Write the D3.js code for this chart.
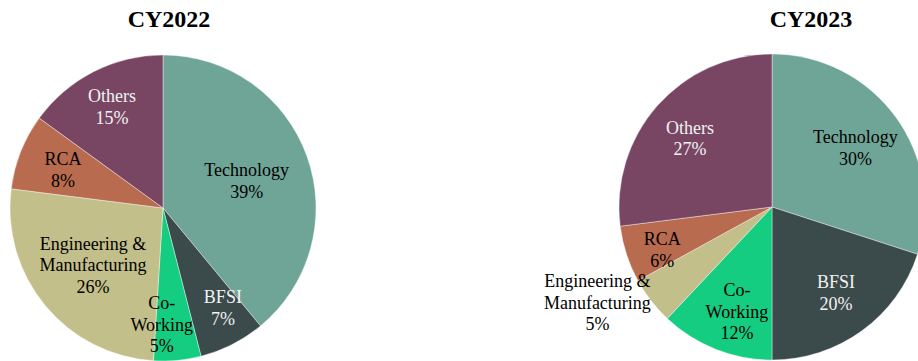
<!DOCTYPE html>
<html>
<head>
<meta charset="utf-8">
<script src="https://cdn.jsdelivr.net/npm/d3@7"></script>
<style>
  html, body { margin: 0; padding: 0; background: #fff; }
  svg { display: block; }
  .lbl { font-family: "Liberation Serif", "Times New Roman", Times, serif; font-size: 18px; }
  .ttl { font-family: "Liberation Serif", "Times New Roman", Times, serif; font-size: 24px; font-weight: bold; }
</style>
</head>
<body>
<svg id="chart" width="918" height="361"></svg>
<script>
// ---- data ----
const categories = ["Technology", "BFSI", "Co-Working", "Engineering & Manufacturing", "RCA", "Others"];
const labelLines = [["Technology"], ["BFSI"], ["Co-", "Working"], ["Engineering &", "Manufacturing"], ["RCA"], ["Others"]];
const titles = ["CY2022", "CY2023"];
const values2022 = [39, 7, 5, 26, 8, 15];
const values2023 = [30, 20, 12, 5, 6, 27];

// ---- styling ----
const colors = ["#6fa597", "#3b4a4b", "#14cd80", "#c3bf8a", "#b96b4f", "#784663"];
const textColors = ["#000", "#f2f2f2", "#000", "#000", "#000", "#f2f2f2"];

// label placement (fraction of radius, angular shift in degrees)
const labelRadius2022 = [0.575, 0.76, 0.76, 0.59, 0.70, 0.74];
const labelShift2022 = [1.8, -4, 6, 0.4, -0.8, 0.2];
const labelRadius2023 = [0.67, 0.70, 0.72, 1.30, 0.77, 0.70];
const labelShift2023 = [0.5, -0.7, -3, 9.2, -3.4, -1.3];

const svg = d3.select("#chart");
const R = 153;

const charts = [
  { title: titles[0], values: values2022, cx: 163, cy: 208, tx: 169, lr: labelRadius2022, ls: labelShift2022 },
  { title: titles[1], values: values2023, cx: 772, cy: 207, tx: 811, lr: labelRadius2023, ls: labelShift2023 }
];

const pie = d3.pie().sort(null).value(d => d.v);
const arc = d3.arc().innerRadius(0).outerRadius(R);

charts.forEach(c => {
  svg.append("text")
    .attr("class", "ttl")
    .attr("x", c.tx).attr("y", 27)
    .attr("text-anchor", "middle")
    .attr("fill", "#000")
    .text(c.title);

  const g = svg.append("g").attr("transform", `translate(${c.cx},${c.cy})`);
  const data = categories.map((k, i) => ({ k, v: c.values[i], i }));
  const arcs = pie(data);

  g.selectAll("path").data(arcs).join("path")
    .attr("d", arc)
    .attr("fill", d => colors[d.data.i])
    .attr("stroke", "#ffffff")
    .attr("stroke-width", 0.4);

  arcs.forEach(d => {
    const i = d.data.i;
    const mid = (d.startAngle + d.endAngle) / 2 + c.ls[i] * Math.PI / 180;
    const r = R * c.lr[i];
    const x = r * Math.sin(mid);
    const y = -r * Math.cos(mid);
    const lines = labelLines[i].concat([d.data.v + "%"]);
    const lh = 21.6;
    const t = g.append("text")
      .attr("class", "lbl")
      .attr("text-anchor", "middle")
      .attr("fill", textColors[i]);
    lines.forEach((ln, j) => {
      t.append("tspan")
        .attr("x", x)
        .attr("y", y + (j - (lines.length - 1) / 2) * lh)
        .attr("dy", "0.35em")
        .text(ln);
    });
  });
});
</script>
</body>
</html>
